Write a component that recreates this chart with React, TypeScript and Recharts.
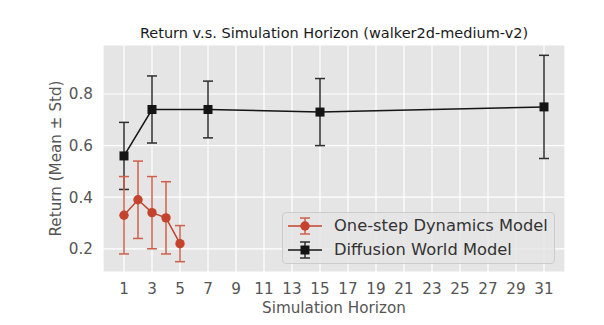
import React from "react";
import { ComposedChart, Line, XAxis, YAxis, CartesianGrid, ErrorBar } from "recharts";

const horizonTicks = [1, 3, 5, 7, 9, 11, 13, 15, 17, 19, 21, 23, 25, 27, 29, 31];
const returnTicks = [0.2, 0.4, 0.6, 0.8];

const oneStepHorizon = [1, 2, 3, 4, 5];
const oneStepMean = [0.33, 0.39, 0.34, 0.32, 0.22];
const oneStepStd = [0.15, 0.15, 0.14, 0.14, 0.07];

const diffusionHorizon = [1, 3, 7, 15, 31];
const diffusionMean = [0.56, 0.74, 0.74, 0.73, 0.75];
const diffusionStd = [0.13, 0.13, 0.11, 0.13, 0.2];

const oneStepLabel = "One-step Dynamics Model";
const diffusionLabel = "Diffusion World Model";
const titleText = "Return v.s. Simulation Horizon (walker2d-medium-v2)";
const xLabel = "Simulation Horizon";
const yLabel = "Return (Mean \u00b1 Std)";

const oneStepData = oneStepHorizon.map((h, i) => ({ h, mean: oneStepMean[i], std: oneStepStd[i] }));
const diffusionData = diffusionHorizon.map((h, i) => ({ h, mean: diffusionMean[i], std: diffusionStd[i] }));

const RED = "#C4432D";
const RED_ERR = "#CF5F4B";
const BLACK = "#141414";
const BLACK_ERR = "#2e2e2e";
const FONT = "'DejaVu Sans', sans-serif";

const W = 604;
const H = 325;
const PLOT_LEFT = 103;
const PLOT_RIGHT = 565;
const PLOT_TOP = 45;
const PLOT_BOTTOM = 272;

const circleDot = (props: any) => {
  const { cx, cy, index } = props;
  return <circle key={`c${index}`} cx={cx} cy={cy} r={4.7} fill={RED} stroke="none" />;
};

const squareDot = (props: any) => {
  const { cx, cy, index } = props;
  return <rect key={`s${index}`} x={cx - 4.5} y={cy - 4.5} width={9} height={9} fill={BLACK} stroke="none" />;
};

const LegendIcon = ({ color, errColor, square }: { color: string; errColor: string; square: boolean }) => (
  <svg width={36} height={20} style={{ display: "block" }}>
    <line x1={1} y1={10} x2={35} y2={10} stroke={color} strokeWidth={1.5} />
    <line x1={18} y1={2} x2={18} y2={18} stroke={errColor} strokeWidth={1.5} />
    <line x1={13} y1={2} x2={23} y2={2} stroke={errColor} strokeWidth={1.5} />
    <line x1={13} y1={18} x2={23} y2={18} stroke={errColor} strokeWidth={1.5} />
    {square ? (
      <rect x={13.5} y={5.5} width={9} height={9} fill={color} />
    ) : (
      <circle cx={18} cy={10} r={4.7} fill={color} />
    )}
  </svg>
);

export default function App() {
  return (
    <div style={{ position: "absolute", left: 0, top: 0, width: W, height: H, background: "#fff", fontFamily: FONT }}>
      <div
        style={{
          position: "absolute",
          left: PLOT_LEFT,
          width: PLOT_RIGHT - PLOT_LEFT,
          top: 24,
          textAlign: "center",
          fontSize: 14.5,
          color: "#1a1a1a",
          lineHeight: "18px",
          whiteSpace: "nowrap",
        }}
      >
        {titleText}
      </div>
      <ComposedChart
        width={W}
        height={H}
        margin={{ top: PLOT_TOP, right: W - PLOT_RIGHT, bottom: 0, left: 0 }}
        style={{ position: "absolute", left: 0, top: 0 }}
      >
        <CartesianGrid fill="#E5E5E5" stroke="#ffffff" strokeWidth={1.2} horizontal vertical />
        <XAxis
          type="number"
          dataKey="h"
          domain={[-0.5, 32.5]}
          ticks={horizonTicks}
          interval={0}
          allowDataOverflow
          height={H - PLOT_BOTTOM}
          axisLine={false}
          tickLine={false}
          tickSize={0}
          tickMargin={11}
          tick={{ fill: "#555555", fontSize: 15.2, fontFamily: FONT }}
          label={{
            content: () => (
              <text
                x={(PLOT_LEFT + PLOT_RIGHT) / 2}
                y={308}
                textAnchor="middle"
                dominantBaseline="central"
                fill="#555555"
                fontSize={15.2}
                fontFamily={FONT}
              >
                {xLabel}
              </text>
            ),
          }}
        />
        <YAxis
          type="number"
          domain={[0.11, 0.99]}
          ticks={returnTicks}
          allowDataOverflow
          width={PLOT_LEFT}
          axisLine={false}
          tickLine={false}
          tickSize={0}
          tickMargin={10}
          tickFormatter={(v: number) => v.toFixed(1)}
          tick={{ fill: "#555555", fontSize: 15.2, fontFamily: FONT }}
          label={{
            content: () => (
              <text
                x={56}
                y={(PLOT_TOP + PLOT_BOTTOM) / 2}
                transform={`rotate(-90 56 ${(PLOT_TOP + PLOT_BOTTOM) / 2})`}
                textAnchor="middle"
                dominantBaseline="central"
                fill="#555555"
                fontSize={15.2}
                fontFamily={FONT}
              >
                {yLabel}
              </text>
            ),
          }}
        />
        <Line
          data={diffusionData}
          dataKey="mean"
          name={diffusionLabel}
          stroke={BLACK}
          strokeWidth={1.5}
          dot={squareDot}
          activeDot={false}
          isAnimationActive={false}
          type="linear"
        >
          <ErrorBar dataKey="std" direction="y" width={5} stroke={BLACK_ERR} strokeWidth={1.5} isAnimationActive={false} />
        </Line>
        <Line
          data={oneStepData}
          dataKey="mean"
          name={oneStepLabel}
          stroke={RED}
          strokeWidth={1.5}
          dot={circleDot}
          activeDot={false}
          isAnimationActive={false}
          type="linear"
        >
          <ErrorBar dataKey="std" direction="y" width={5} stroke={RED_ERR} strokeWidth={1.5} isAnimationActive={false} />
        </Line>
      </ComposedChart>
      <div
        style={{
          position: "absolute",
          left: 282,
          top: 212,
          width: 273,
          height: 52,
          boxSizing: "border-box",
          background: "rgba(229,229,229,0.8)",
          border: "1px solid #cccccc",
          borderRadius: 4,
          fontSize: 16.3,
          color: "#333333",
        }}
      >
        {[
          { label: oneStepLabel, color: RED, err: RED_ERR, square: false },
          { label: diffusionLabel, color: BLACK, err: BLACK_ERR, square: true },
        ].map((item, i) => (
          <div
            key={item.label}
            style={{
              position: "absolute",
              left: 4,
              top: 3 + i * 24,
              height: 20,
              display: "flex",
              alignItems: "center",
              whiteSpace: "nowrap",
            }}
          >
            <LegendIcon color={item.color} errColor={item.err} square={item.square} />
            <span style={{ marginLeft: 11, lineHeight: "20px" }}>{item.label}</span>
          </div>
        ))}
      </div>
    </div>
  );
}
